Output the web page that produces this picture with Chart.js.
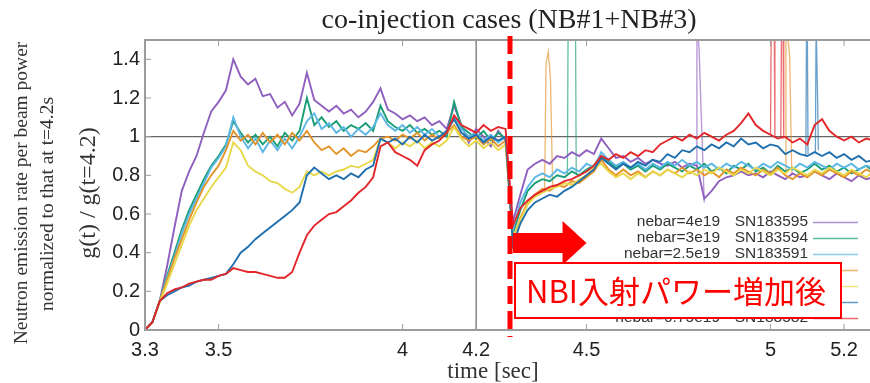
<!DOCTYPE html>
<html>
<head>
<meta charset="utf-8">
<script src="https://cdn.jsdelivr.net/npm/chart.js@4.4.1/dist/chart.umd.min.js"></script>
<style>
html, body { margin: 0; padding: 0; background: #fff; overflow: hidden; }
#wrap { width: 870px; height: 383px; overflow: hidden; }
canvas { display: block; }
</style>
</head>
<body>
<div id="wrap"><canvas id="chart" width="880" height="383"></canvas></div>
<script>
// time base (sec), shared by all shots
const times = [
  3.30,3.32,3.34,3.36,3.38,3.40,3.42,3.44,3.46,3.48,
  3.50,3.52,3.54,3.56,3.58,3.60,3.62,3.64,3.66,3.68,
  3.70,3.72,3.74,3.76,3.78,3.80,3.82,3.84,3.86,3.88,
  3.90,3.92,3.94,3.96,3.98,4.00,4.02,4.04,4.06,4.08,
  4.10,4.12,4.14,4.16,4.18,4.20,4.22,4.24,4.26,4.28,
  4.30,4.32,4.34,4.36,4.38,4.40,4.42,4.44,4.46,4.48,
  4.50,4.52,4.54,4.56,4.58,4.60,4.62,4.64,4.66,4.68,
  4.70,4.72,4.74,4.76,4.78,4.80,4.82,4.84,4.86,4.88,
  4.90,4.92,4.94,4.96,4.98,5.00,5.02,5.04,5.06,5.08,
  5.10,5.12,5.14,5.16,5.18,5.20,5.22,5.24,5.26,5.28
]

// g(t)/g(t=4.2) for each shot
const sn183595 = [
  0,0.04,0.15,0.33,0.53,0.72,0.82,0.90,1.02,1.13,
  1.18,1.24,1.40,1.31,1.27,1.30,1.21,1.22,1.15,1.18,
  1.11,1.17,1.33,1.19,1.16,1.13,1.16,1.12,1.14,1.10,
  1.13,1.18,1.25,1.14,1.12,1.09,1.11,1.08,1.10,1.06,
  1.08,1.04,1.16,1.06,0.97,1.04,1.00,0.95,1.03,0.98,
  0.56,0.70,0.83,0.86,0.88,0.86,0.90,0.89,0.92,0.90,
  0.93,0.91,0.99,0.94,0.89,0.90,0.87,0.89,0.86,0.88,
  0.86,0.85,0.87,0.84,0.86,0.85,0.68,0.72,0.77,0.79,
  0.80,0.82,0.80,0.81,0.79,0.82,0.80,0.78,0.81,0.79,
  0.80,0.82,0.80,0.78,0.81,0.79,0.77,0.80,0.78,0.79
]
const sn183594 = [
  0,0.04,0.15,0.28,0.40,0.52,0.62,0.70,0.78,0.85,
  0.90,0.96,1.08,1.02,0.97,1.01,0.96,1.00,0.95,1.02,
  0.98,1.03,1.20,1.06,1.10,1.05,1.08,1.03,1.06,1.04,
  1.07,1.03,1.16,1.08,1.05,1.03,1.06,1.02,1.04,1.01,
  1.03,1.00,1.18,1.05,1.02,0.99,1.03,0.98,1.02,0.99,
  0.50,0.62,0.72,0.76,0.78,0.77,0.80,0.79,0.82,0.80,
  0.83,0.85,0.90,0.87,0.84,0.86,0.83,0.85,0.82,0.85,
  0.83,0.86,0.84,0.82,0.85,0.83,0.86,0.82,0.84,0.81,
  0.85,0.83,0.86,0.82,0.84,0.81,0.85,0.82,0.84,0.81,
  0.83,0.86,0.83,0.85,0.82,0.84,0.81,0.83,0.85,0.82
]
const sn183591 = [
  0,0.04,0.15,0.27,0.38,0.50,0.60,0.68,0.76,0.84,
  0.89,0.95,1.10,1.00,0.94,0.99,0.92,0.98,0.93,0.99,
  0.94,1.00,1.08,1.12,1.04,1.07,1.02,1.05,1.00,1.04,
  1.01,1.05,1.12,1.06,1.03,1.06,1.02,1.05,1.01,1.04,
  1.00,1.02,1.10,1.04,1.00,1.02,0.98,1.01,0.97,1.00,
  0.52,0.66,0.74,0.79,0.81,0.79,0.83,0.81,0.84,0.82,
  0.86,0.84,0.92,0.88,0.85,0.87,0.84,0.86,0.83,0.86,
  0.84,0.87,0.85,0.88,0.85,0.87,0.84,0.86,0.83,0.86,
  0.84,0.87,0.85,0.83,0.86,0.84,0.87,0.85,0.83,0.86,
  0.84,0.87,0.85,0.83,0.86,0.84,0.86,0.83,0.85,0.84
]
const sn183590 = [
  0,0.04,0.15,0.26,0.37,0.47,0.57,0.66,0.74,0.80,
  0.85,0.93,1.03,0.98,1.01,0.96,1.02,0.97,1.01,0.96,
  1.02,0.98,1.03,0.97,0.93,0.95,0.91,0.94,0.90,0.93,
  0.92,0.95,0.99,1.00,0.98,1.01,0.99,1.02,0.98,1.01,
  0.99,1.02,1.06,1.00,0.98,1.00,0.96,0.99,0.95,0.98,
  0.46,0.58,0.66,0.70,0.73,0.72,0.75,0.74,0.77,0.76,
  0.79,0.82,0.88,0.83,0.80,0.83,0.80,0.82,0.79,0.82,
  0.80,0.83,0.81,0.84,0.81,0.83,0.80,0.82,0.79,0.83,
  0.81,0.84,0.82,0.80,0.83,0.81,0.84,0.80,0.78,0.81,
  0.79,0.82,0.80,0.83,0.81,0.79,0.82,0.80,0.83,0.81
]
const sn183588 = [
  0,0.04,0.14,0.24,0.34,0.44,0.54,0.62,0.68,0.74,
  0.79,0.84,0.97,0.93,0.85,0.82,0.80,0.77,0.76,0.73,
  0.71,0.74,0.82,0.80,0.82,0.80,0.82,0.83,0.85,0.84,
  0.86,0.88,0.99,0.97,0.94,0.97,0.95,0.98,0.94,0.97,
  0.95,0.98,1.05,0.99,0.95,0.98,0.94,0.97,0.93,0.96,
  0.47,0.57,0.65,0.69,0.71,0.73,0.74,0.76,0.75,0.78,
  0.80,0.84,0.86,0.82,0.79,0.81,0.78,0.81,0.79,0.82,
  0.80,0.83,0.81,0.79,0.82,0.80,0.83,0.81,0.84,0.82,
  0.80,0.83,0.81,0.84,0.82,0.80,0.83,0.81,0.84,0.82,
  0.80,0.83,0.81,0.84,0.82,0.80,0.83,0.81,0.79,0.82
]
const sn183585 = [
  0,0.04,0.15,0.18,0.20,0.22,0.23,0.25,0.26,0.27,
  0.28,0.29,0.34,0.40,0.43,0.47,0.50,0.53,0.56,0.59,
  0.62,0.66,0.80,0.84,0.81,0.78,0.80,0.78,0.81,0.79,
  0.83,0.85,0.99,0.97,0.99,0.96,1.00,0.97,1.01,0.98,
  1.00,1.03,1.09,1.02,0.99,1.01,0.97,1.00,0.98,1.00,
  0.44,0.55,0.62,0.66,0.68,0.70,0.69,0.72,0.74,0.77,
  0.80,0.83,0.89,0.86,0.83,0.86,0.84,0.87,0.85,0.88,
  0.87,0.91,0.89,0.93,0.92,0.95,0.93,0.96,0.94,0.97,
  0.95,0.99,0.96,0.97,0.94,0.96,0.95,0.91,0.93,0.91,
  0.90,0.92,0.90,0.92,0.89,0.91,0.88,0.90,0.87,0.88
]
const sn183582 = [
  0,0.04,0.15,0.19,0.21,0.22,0.24,0.25,0.26,0.26,
  0.28,0.29,0.32,0.31,0.30,0.30,0.29,0.28,0.27,0.27,
  0.30,0.40,0.49,0.54,0.57,0.60,0.61,0.64,0.67,0.71,
  0.74,0.79,0.95,0.97,0.92,0.90,0.88,0.85,0.93,0.96,
  0.98,1.02,1.11,1.06,1.04,1.02,1.06,1.03,1.05,1.04,
  0.54,0.63,0.67,0.70,0.72,0.74,0.75,0.77,0.78,0.80,
  0.82,0.85,0.90,0.88,0.91,0.89,0.92,0.90,0.93,0.92,
  0.96,0.98,1.00,0.98,1.01,0.99,1.02,1.00,0.98,1.01,
  1.03,1.07,1.12,1.06,1.03,1.01,0.99,1.00,0.97,0.99,
  0.96,1.06,1.09,1.03,1.00,0.98,1.00,0.97,0.99,0.98
]

// short spikes (signal glitches), finer time resolution
const spikeOrange1T = [4.386, 4.390, 4.396, 4.402, 4.408]
const spikeOrange1G = [0.72, 1.38, 1.44, 1.30, 0.73]
const spikeGreenT = [4.448, 4.450, 4.470, 4.472]
const spikeGreenG = [0.80, 1.60, 1.60, 0.81]
const spikePurpleT = [4.798, 4.800, 4.806, 4.812, 4.820]
const spikePurpleG = [0.85, 1.60, 1.45, 1.10, 0.66]
const spikeRed1T = [5.000, 5.002, 5.010, 5.012]
const spikeRed1G = [1.01, 1.60, 1.60, 1.00]
const spikeRed2T = [5.028, 5.030, 5.034, 5.036]
const spikeRed2G = [1.00, 1.60, 1.60, 0.99]
const spikeOrange2T = [5.040, 5.042, 5.052, 5.058]
const spikeOrange2G = [0.81, 1.60, 1.42, 0.80]
const spikeBlue1T = [5.096, 5.098, 5.100, 5.102]
const spikeBlue1G = [0.90, 1.60, 1.60, 0.91]
const spikeBlue2T = [5.122, 5.124, 5.128, 5.130]
const spikeBlue2G = [0.92, 1.60, 1.20, 0.93]

const nebarLabels = ['nebar=4e19', 'nebar=3e19', 'nebar=2.5e19', 'nebar=2e19', 'nebar=1.5e19', 'nebar=1e19', 'nebar=0.75e19']
const shotLabels = ['SN183595', 'SN183594', 'SN183591', 'SN183590', 'SN183588', 'SN183585', 'SN183582']
const colors = ['#8f5fbf', '#1a9e77', '#5bb7e5', '#e3952b', '#e8d84a', '#1f6fae', '#e3262a']

const xTicks = [3.3, 3.5, 4, 4.2, 4.5, 5, 5.2]
const yTicks = [0, 0.2, 0.4, 0.6, 0.8, 1, 1.2, 1.4]

const refT = 4.2
const refG = 1
const nbiT = 4.292

const series = [sn183595, sn183594, sn183591, sn183590, sn183588, sn183585, sn183582]

function pts(ts, gs) {
    return ts.map(function (t, i) { return { x: t, y: gs[i] } })
}

var datasets = []
var i
for (i = 0; i < series.length; i++) {
    datasets.push({
        data: pts(times, series[i]),
        borderColor: colors[i],
        borderWidth: 1.9,
        order: series.length - i
    })
}

var spikes = [
    [spikeOrange1T, spikeOrange1G, 3],
    [spikeGreenT, spikeGreenG, 1],
    [spikePurpleT, spikePurpleG, 0],
    [spikeRed1T, spikeRed1G, 6],
    [spikeRed2T, spikeRed2G, 6],
    [spikeOrange2T, spikeOrange2G, 3],
    [spikeBlue1T, spikeBlue1G, 5],
    [spikeBlue2T, spikeBlue2G, 5]
]
spikes.forEach(function (s) {
    datasets.push({
        data: pts(s[0], s[1]),
        borderColor: colors[s[2]] + 'aa',
        borderWidth: 1.3,
        order: 10
    })
})

const overlay = {
    id: 'overlay',
    beforeDatasetsDraw(chart) {
        const { ctx, chartArea: a, scales: { x, y } } = chart
        ctx.save()
        ctx.strokeStyle = '#666'
        ctx.lineWidth = 1.2
        ctx.beginPath()
        ctx.moveTo(a.left, y.getPixelForValue(refG))
        ctx.lineTo(a.right, y.getPixelForValue(refG))
        ctx.moveTo(x.getPixelForValue(refT), a.top)
        ctx.lineTo(x.getPixelForValue(refT), a.bottom)
        ctx.stroke()
        ctx.restore()
    },
    afterDatasetsDraw(chart) {
        const { ctx, chartArea: a, scales: { x, y } } = chart
        ctx.save()
        // frame + inward ticks
        ctx.strokeStyle = '#9c9c9c'
        ctx.lineWidth = 2
        ctx.strokeRect(a.left, a.top, a.right - a.left, a.bottom - a.top)
        ctx.lineWidth = 1
        ctx.beginPath()
        xTicks.forEach(function (v) {
            var px = x.getPixelForValue(v)
            ctx.moveTo(px, a.bottom); ctx.lineTo(px, a.bottom - 6)
            ctx.moveTo(px, a.top); ctx.lineTo(px, a.top + 6)
        })
        yTicks.forEach(function (v) {
            var py = y.getPixelForValue(v)
            ctx.moveTo(a.left, py); ctx.lineTo(a.left + 6, py)
        })
        ctx.stroke()

        // legend
        ctx.font = '15.5px "Liberation Sans"'
        ctx.fillStyle = '#333'
        ctx.textAlign = 'right'
        ctx.textBaseline = 'middle'
        for (var k = 0; k < nebarLabels.length; k++) {
            var ry = 222 + k * 16
            ctx.fillText(nebarLabels[k], 720, ry)
            ctx.fillText(shotLabels[k], 808, ry)
            ctx.strokeStyle = colors[k]
            ctx.globalAlpha = 0.7
            ctx.lineWidth = 1.5
            ctx.beginPath()
            ctx.moveTo(813, ry + 0.5); ctx.lineTo(858, ry + 0.5)
            ctx.stroke()
            ctx.globalAlpha = 1
        }
        ctx.restore()
    },
    afterDraw(chart) {
        const { ctx, chartArea: a, scales: { x, y } } = chart
        ctx.save()
        ctx.fillStyle = '#222'
        ctx.textAlign = 'center'
        ctx.textBaseline = 'alphabetic'
        ctx.font = '28px "Liberation Serif"'
        ctx.fillText('co-injection cases (NB#1+NB#3)', 509, 28)
        ctx.font = '23px "Liberation Serif"'
        ctx.fillStyle = '#333'
        ctx.fillText('time [sec]', 493, 378)

        ctx.textBaseline = 'middle'
        ctx.save()
        ctx.translate(89, 193)
        ctx.rotate(-Math.PI / 2)
        ctx.font = '24px "Liberation Serif"'
        ctx.fillText('g(t) / g(t=4.2)', 0, 0)
        ctx.restore()
        ctx.save()
        ctx.translate(22, 193)
        ctx.rotate(-Math.PI / 2)
        ctx.font = '19.5px "Liberation Serif"'
        ctx.fillText('Neutron emission rate per beam power', 0, 0)
        ctx.restore()
        ctx.save()
        ctx.translate(48, 204)
        ctx.rotate(-Math.PI / 2)
        ctx.font = '19.5px "Liberation Serif"'
        ctx.fillText('normalized to that at t=4.2s', 0, 0)
        ctx.restore()

        // NBI power step marker
        var dx = x.getPixelForValue(nbiT)
        ctx.strokeStyle = '#ff0000'
        ctx.lineWidth = 5
        ctx.setLineDash([18, 7])
        ctx.beginPath()
        ctx.moveTo(dx, 36); ctx.lineTo(dx, 337)
        ctx.stroke()
        ctx.setLineDash([])

        var tipX = x.getPixelForValue(4.5)
        var cy = y.getPixelForValue(0.45)
        ctx.fillStyle = '#ff0000'
        ctx.beginPath()
        ctx.moveTo(dx + 3, cy - 10)
        ctx.lineTo(tipX - 24, cy - 10)
        ctx.lineTo(tipX - 24, cy - 22)
        ctx.lineTo(tipX, cy)
        ctx.lineTo(tipX - 24, cy + 22)
        ctx.lineTo(tipX - 24, cy + 10)
        ctx.lineTo(dx + 3, cy + 10)
        ctx.closePath()
        ctx.fill()

        ctx.fillStyle = '#fff'
        ctx.fillRect(515, 263, 326, 55)
        ctx.strokeStyle = '#ff0000'
        ctx.lineWidth = 2
        ctx.strokeRect(515, 263, 326, 55)
        ctx.fillStyle = '#ff0000'
        ctx.textAlign = 'center'
        ctx.font = '31px "Noto Sans CJK JP"'
        ctx.fillText('NBI入射パワー増加後', 676, 291)
        ctx.restore()
    }
}

const ctx = document.getElementById('chart')
const chart = new Chart(ctx, {
    type: 'line',
    data: { datasets: datasets },
    options: {
        responsive: false,
        animation: false,
        layout: { padding: { top: 40, right: 5, left: 0, bottom: 0 } },
        plugins: {
            legend: { display: false },
            tooltip: { enabled: false },
            title: { display: false }
        },
        elements: { point: { radius: 0 }, line: { tension: 0 } },
        scales: {
            x: {
                type: 'linear',
                min: 3.3,
                max: 5.284,
                afterBuildTicks: function (s) { s.ticks = xTicks.map(function (v) { return { value: v } }) },
                afterFit: function (s) { s.height = 53 },
                grid: { display: false, drawTicks: false },
                border: { display: false },
                ticks: {
                    autoSkip: false, maxRotation: 0, padding: 8, color: '#222',
                    font: { family: 'Liberation Sans', size: 20 },
                    callback: function (v) { return String(v) }
                }
            },
            y: {
                min: 0,
                max: 1.5,
                afterBuildTicks: function (s) { s.ticks = yTicks.map(function (v) { return { value: v } }) },
                afterFit: function (s) { s.width = 145 },
                grid: { display: false, drawTicks: false },
                border: { display: false },
                ticks: {
                    padding: 5, color: '#222',
                    font: { family: 'Liberation Sans', size: 20 },
                    callback: function (v) { return String(v) }
                }
            }
        }
    },
    plugins: [overlay]
})
</script>
</body>
</html>
